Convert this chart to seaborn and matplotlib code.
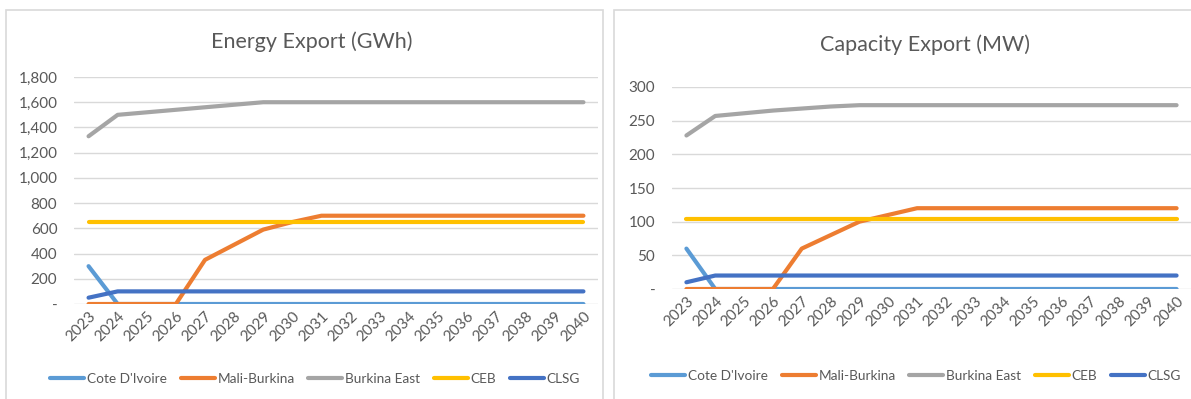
import matplotlib
matplotlib.use("Agg")
import matplotlib.pyplot as plt
from matplotlib.patches import Rectangle
from matplotlib.ticker import FuncFormatter
import seaborn as sns
import pandas as pd

years = list(range(2023, 2041))
series_names = ["Cote D'Ivoire", "Mali-Burkina", "Burkina East", "CEB", "CLSG"]
colors = ["#5B9BD5", "#ED7D31", "#A5A5A5", "#FFC000", "#4472C4"]

# Energy Export (GWh)
energy_cote = [300] + [0] * 17
energy_mali = [0, 0, 0, 0, 350, 470, 590, 650] + [700] * 10
energy_burkina_east = [1330, 1500, 1520, 1540, 1560, 1580] + [1600] * 12
energy_ceb = [650] * 18
energy_clsg = [50] + [100] * 17
energy_yticks = [0, 200, 400, 600, 800, 1000, 1200, 1400, 1600, 1800]

# Capacity Export (MW)
cap_cote = [60] + [0] * 17
cap_mali = [0, 0, 0, 0, 60, 80, 100, 110] + [120] * 10
cap_burkina_east = [228, 257, 261, 265, 268, 271] + [273] * 12
cap_ceb = [104] * 18
cap_clsg = [10] + [20] * 17
cap_yticks = [0, 50, 100, 150, 200, 250, 300]

energy_title = "Energy Export (GWh)"
cap_title = "Capacity Export (MW)"


def long_df(lists):
    rows = []
    for name, vals in zip(series_names, lists):
        for y, v in zip(years, vals):
            rows.append({"Year": y, "Value": v, "Series": name})
    return pd.DataFrame(rows)


df_energy = long_df([energy_cote, energy_mali, energy_burkina_east, energy_ceb, energy_clsg])
df_cap = long_df([cap_cote, cap_mali, cap_burkina_east, cap_ceb, cap_clsg])

sns.set_style("white")
plt.rcParams["font.family"] = ["Lato", "DejaVu Sans"]
TXT = "#595959"
GRID = "#D9D9D9"

W, H = 1191, 399
fig = plt.figure(figsize=(W / 100, H / 100), dpi=100)

# panel frames
fig.patches.append(Rectangle((6 / W, -0.05), (603 - 6) / W, (H - 10) / H + 0.05,
                             transform=fig.transFigure, fill=False, edgecolor=GRID, lw=1.2))
fig.patches.append(Rectangle((614 / W, -0.05), (W + 10 - 614) / W, (H - 10) / H + 0.05,
                             transform=fig.transFigure, fill=False, edgecolor=GRID, lw=1.2))


def fmt(v, pos):
    return "-" if v == 0 else f"{v:,.0f}"


def draw(ax, df, yticks, title, title_x, title_y, legend_x, legend_y):
    for yt in yticks:
        ax.axhline(yt, color=GRID, lw=1.0, zorder=0)
    sns.lineplot(data=df, x="Year", y="Value", hue="Series", hue_order=series_names,
                 palette=colors, linewidth=3.0, ax=ax, legend=True, zorder=3)
    ax.set_xlim(years[0] - 0.5, years[-1] + 0.5)
    ax.set_ylim(yticks[0], yticks[-1])
    ax.set_yticks(yticks)
    ax.yaxis.set_major_formatter(FuncFormatter(fmt))
    ax.set_xticks(years)
    ax.set_xticklabels([str(y) for y in years], rotation=45, ha="right", rotation_mode="anchor")
    ax.tick_params(axis="both", colors=TXT, labelsize=11, length=0)
    ax.tick_params(axis="y", pad=12)
    ax.tick_params(axis="x", pad=4)
    for s in ax.spines.values():
        s.set_visible(False)
    ax.set_xlabel("")
    ax.set_ylabel("")
    ax.grid(False)
    fig.text(title_x, title_y, title, ha="center", va="center", fontsize=15.5, color=TXT)
    handles, labels = ax.get_legend_handles_labels()
    ax.legend(handles, labels, loc="center", bbox_to_anchor=(legend_x, legend_y),
              bbox_transform=fig.transFigure, ncol=5, frameon=False, fontsize=9.8,
              handlelength=2.5, handletextpad=0.2, columnspacing=1.0, labelcolor=TXT,
              borderaxespad=0, borderpad=0)


ax1 = fig.add_axes([74 / W, (H - 304) / H, 524 / W, (304 - 77) / H])
ax2 = fig.add_axes([672 / W, (H - 289) / H, 519 / W, (289 - 87) / H])

draw(ax1, df_energy, energy_yticks, energy_title, 312 / W, 1 - 42 / H, 315 / W, 1 - 379 / H)
draw(ax2, df_cap, cap_yticks, cap_title, 925 / W, 1 - 45 / H, 916 / W, 1 - 376 / H)

fig.savefig("out.png", dpi=100)
